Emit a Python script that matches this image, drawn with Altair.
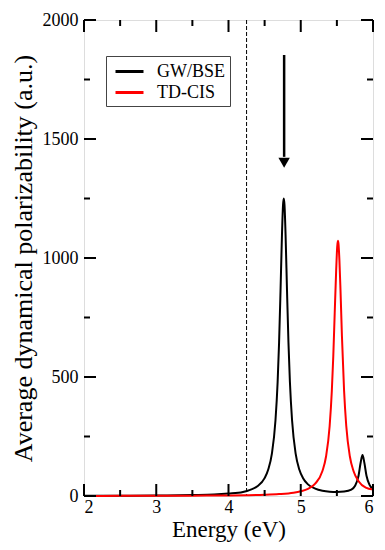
import altair as alt
import pandas as pd

# ---- data ----
energy_gwbse = [2.0, 2.5, 3.0, 3.5, 3.8, 4.0, 4.2, 4.3, 4.4, 4.5, 4.55, 4.6, 4.65, 4.68,
                4.70, 4.72, 4.74, 4.755, 4.765, 4.775, 4.79, 4.81, 4.83, 4.85, 4.88, 4.93,
                4.98, 5.03, 5.1, 5.2, 5.3, 5.4, 5.5, 5.6, 5.7, 5.75, 5.8, 5.83, 5.855,
                5.88, 5.91, 5.95, 6.0]
pol_gwbse = [1, 1, 2, 4, 6, 10, 17, 26, 41, 75, 111, 177, 317, 479,
             644, 861, 1097, 1223, 1250, 1223, 1097, 861, 644, 479, 317, 177,
             111, 76, 49, 31, 22, 18, 17, 19, 27, 42, 85, 142, 172,
             140, 85, 48, 30]

energy_tdcis = [2.0, 2.5, 3.0, 3.5, 4.0, 4.25, 4.5, 4.7, 4.9, 5.0, 5.1, 5.2, 5.3, 5.35,
                5.4, 5.43, 5.45, 5.47, 5.49, 5.505, 5.515, 5.522, 5.535, 5.55, 5.57,
                5.6, 5.63, 5.68, 5.73, 5.8, 5.9, 6.0]
pol_tdcis = [0.4, 0.6, 0.9, 1.3, 2.4, 3.4, 5.2, 8.1, 14, 20, 30, 52, 105, 166,
             294, 441, 585, 768, 946, 1049, 1072, 1060, 991, 866, 672,
             441, 294, 166, 105, 62, 35, 27]

series_names = ["GW/BSE", "TD-CIS"]
series_colors = ["black", "red"]

onset_energy = [4.25]
arrow_energy = [4.77]
arrow_shaft_top = [1853]
arrow_shaft_bottom = [1425]
arrow_head = [1400]

x_major = [2, 3, 4, 5, 6]
x_minor = [2.5, 3.5, 4.5, 5.5]
y_major = [0, 500, 1000, 1500, 2000]
y_minor = [250, 750, 1250, 1750]

# ---- chart ----
W, H = 289, 476
FONT = "Liberation Serif"

curves = pd.concat([
    pd.DataFrame({"energy": energy_gwbse, "pol": pol_gwbse, "series": series_names[0]}),
    pd.DataFrame({"energy": energy_tdcis, "pol": pol_tdcis, "series": series_names[1]}),
])

xs = alt.Scale(domain=[2, 6], nice=False, zero=False)
ys = alt.Scale(domain=[0, 2000], nice=False)

x_axis = alt.Axis(values=x_major, format="d", ticks=False, domain=False, grid=False,
                  labelFontSize=18, labelPadding=2, labelFont=FONT,
                  title="Energy (eV)", titleFont=FONT, titleFontSize=23,
                  titleFontWeight="normal", titlePadding=2)
y_axis = alt.Axis(values=y_major, format="d", ticks=False, domain=False, grid=False,
                  labelFontSize=18, labelPadding=6, labelFont=FONT,
                  title="Average dynamical polarizability (a.u.)", titleFont=FONT,
                  titleFontSize=26, titleFontWeight="normal", titlePadding=6)

def X(field):
    return alt.X(field, scale=xs, axis=x_axis)

def Y(field):
    return alt.Y(field, scale=ys, axis=y_axis)

lines = alt.Chart(curves).mark_line(strokeWidth=2, interpolate="monotone").encode(
    x=X("energy:Q"),
    y=Y("pol:Q"),
    color=alt.Color("series:N",
                    scale=alt.Scale(domain=series_names, range=series_colors),
                    legend=alt.Legend(orient="none", legendX=22, legendY=36, title=None,
                                      symbolType="M-1.4,0L1.4,0", symbolStrokeWidth=3,
                                      symbolSize=400, symbolOffset=8,
                                      labelFont=FONT, labelFontSize=18,
                                      labelOffset=16, padding=4, rowPadding=0,
                                      fillColor="white", strokeColor="#444")),
    detail="series:N",
)

def xticks(vals, length):
    df = pd.DataFrame({"v": vals})
    bottom = alt.Chart(df).mark_rule(strokeWidth=2, color="black").encode(
        x=X("v:Q"), y=alt.value(H), y2=alt.value(H - length))
    top = alt.Chart(df).mark_rule(strokeWidth=2, color="black").encode(
        x=X("v:Q"), y=alt.value(0), y2=alt.value(length))
    return [bottom, top]

def yticks(vals, length):
    df = pd.DataFrame({"v": vals})
    left = alt.Chart(df).mark_rule(strokeWidth=2, color="black").encode(
        y=Y("v:Q"), x=alt.value(0), x2=alt.value(length))
    right = alt.Chart(df).mark_rule(strokeWidth=2, color="black").encode(
        y=Y("v:Q"), x=alt.value(W), x2=alt.value(W - length))
    return [left, right]

onset = alt.Chart(pd.DataFrame({"e": onset_energy})).mark_rule(
    strokeDash=[4, 2], strokeWidth=1, color="black").encode(x=X("e:Q"))

arrow_df = pd.DataFrame({"e": arrow_energy, "top": arrow_shaft_top,
                         "bot": arrow_shaft_bottom, "head": arrow_head})
shaft = alt.Chart(arrow_df).mark_rule(strokeWidth=2.5, color="black").encode(
    x=X("e:Q"), y=Y("top:Q"), y2="bot:Q")
head = alt.Chart(arrow_df).mark_point(shape="triangle-down", filled=True, size=130,
                                      color="black", opacity=1).encode(
    x=X("e:Q"), y=Y("head:Q"))

layers = [onset, lines, shaft, head] + xticks(x_major, 12) + xticks(x_minor, 6) \
    + yticks(y_major, 12) + yticks(y_minor, 6)

chart = alt.layer(*layers).properties(
    width=W, height=H,
    autosize=alt.AutoSizeParams(type="none"),
    padding={"left": 76, "top": 12, "right": 4, "bottom": 46},
).configure_view(stroke="black", strokeWidth=2).configure_axis(
    labelColor="black", titleColor="black", labelFont=FONT, titleFont=FONT
).configure_legend(labelFont=FONT).configure(font=FONT)

chart.save("out.html", embed_options={"renderer": "svg", "actions": False})
